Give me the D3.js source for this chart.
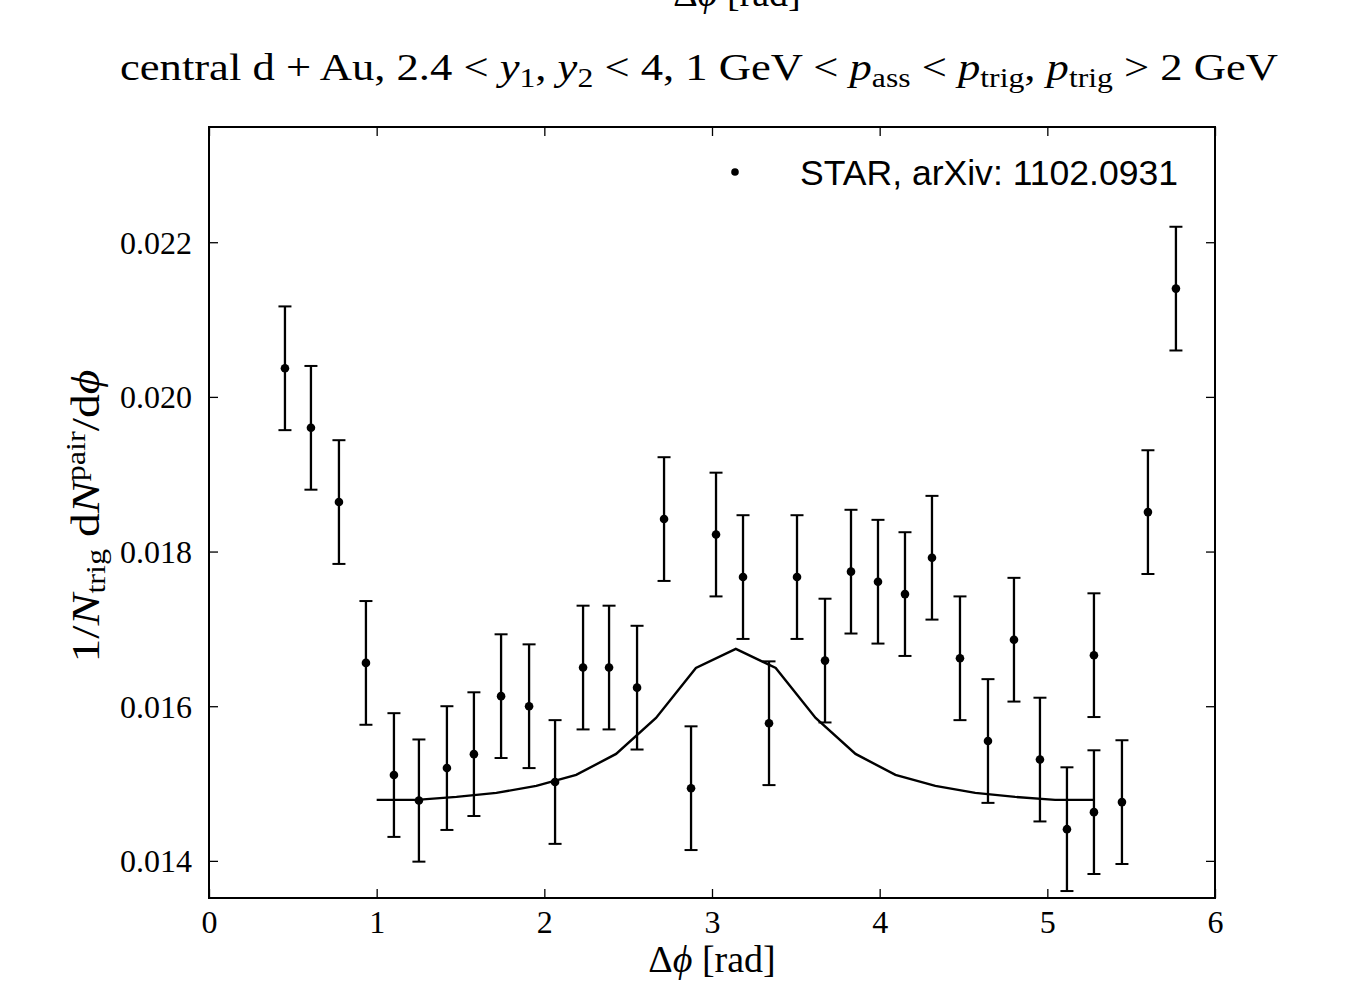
<!DOCTYPE html>
<html><head><meta charset="utf-8">
<script src="https://cdn.jsdelivr.net/npm/d3@7/dist/d3.min.js"></script>
<style>body{margin:0;background:#fff}svg{display:block}</style>
</head><body>
<script>
// Data points (STAR, arXiv: 1102.0931)
const dataPhi = [0.453,0.608,0.775,0.936,1.103,1.252,1.419,1.580,1.742,1.909,2.064,2.231,2.386,2.553,2.714,2.875,3.024,3.185,3.340,3.507,3.674,3.829,3.990,4.151,4.312,4.479,4.646,4.801,4.956,5.117,5.278,5.278,5.445,5.600,5.767];
const dataY   = [0.02037,0.01960,0.01864,0.01656,0.01511,0.01478,0.01520,0.01538,0.01613,0.01600,0.01502,0.01650,0.01650,0.01624,0.01842,0.01494,0.01822,0.01767,0.01578,0.01767,0.01659,0.01774,0.01761,0.01745,0.01792,0.01662,0.01555,0.01686,0.01531,0.01441,0.01666,0.01463,0.01476,0.01851,0.02140];
const dataErr = [0.00080,0.00080,0.00080,0.00080,0.00080,0.00079,0.00080,0.00080,0.00080,0.00080,0.00080,0.00080,0.00080,0.00080,0.00080,0.00080,0.00080,0.00080,0.00080,0.00080,0.00080,0.00080,0.00080,0.00080,0.00080,0.00080,0.00080,0.00080,0.00080,0.00080,0.00080,0.00080,0.00080,0.00080,0.00080];
// Model curve
const curvePhi = [1.000,1.238,1.476,1.714,1.952,2.190,2.428,2.666,2.904,3.142,3.380,3.618,3.856,4.094,4.332,4.570,4.808,5.046,5.283];
const curveY   = [0.014789,0.014789,0.014827,0.014879,0.014970,0.015112,0.015383,0.015849,0.016495,0.016741,0.016495,0.015849,0.015383,0.015112,0.014970,0.014879,0.014827,0.014789,0.014789];
const xTicks = [0,1,2,3,4,5,6];
const yTicks = [0.014,0.016,0.018,0.020,0.022];

const W = 1360, H = 982;
const L = 209, R = 1215, T = 127, B = 898;
const svg = d3.select("body").append("svg").attr("width", W).attr("height", H);
const serif = "'Liberation Serif','DejaVu Serif',serif";
const sans = "'Liberation Sans','DejaVu Sans',Arial,sans-serif";

const x = d3.scaleLinear().domain([0, 6]).range([L, R]);
const y = d3.scaleLinear().domain([0.01352, 0.02349]).range([B, T]);

const tickLen = 9;
const gB = svg.append("g").attr("transform", `translate(0,${B})`)
  .call(d3.axisBottom(x).tickValues(xTicks).tickSizeInner(-tickLen).tickSizeOuter(0).tickPadding(tickLen + 3).tickFormat(d3.format("d")));
const gT = svg.append("g").attr("transform", `translate(0,${T})`)
  .call(d3.axisTop(x).tickValues(xTicks).tickSizeInner(-tickLen).tickSizeOuter(0).tickFormat(""));
const gL = svg.append("g").attr("transform", `translate(${L},0)`)
  .call(d3.axisLeft(y).tickValues(yTicks).tickSizeInner(-tickLen).tickSizeOuter(0).tickPadding(tickLen + 8).tickFormat(d3.format(".3f")));
const gR = svg.append("g").attr("transform", `translate(${R},0)`)
  .call(d3.axisRight(y).tickValues(yTicks).tickSizeInner(-tickLen).tickSizeOuter(0).tickFormat(""));
[gB, gT, gL, gR].forEach(g => {
  g.select(".domain").remove();
  g.selectAll(".tick line").attr("stroke", "#000").attr("stroke-width", 1.3);
  g.selectAll(".tick text").attr("font-family", serif).attr("font-size", 32).attr("fill", "#000");
});
gL.selectAll(".tick text").attr("dy", "0.34em");
gB.selectAll(".tick text").attr("dy", "0.72em");

svg.append("rect").attr("x", L).attr("y", T).attr("width", R - L).attr("height", B - T)
  .attr("fill", "none").attr("stroke", "#000").attr("stroke-width", 2);

svg.append("path").datum(curvePhi.map((p, i) => [p, curveY[i]]))
  .attr("d", d3.line().x(d => x(d[0])).y(d => y(d[1])))
  .attr("fill", "none").attr("stroke", "#000").attr("stroke-width", 2.4);

const pts = dataPhi.map((p, i) => ({p, v: dataY[i], e: dataErr[i]}));
const eb = svg.append("g").attr("stroke", "#000").attr("stroke-width", 2.3);
pts.forEach(d => {
  eb.append("line").attr("x1", x(d.p)).attr("x2", x(d.p)).attr("y1", y(d.v - d.e)).attr("y2", y(d.v + d.e));
  [d.v - d.e, d.v + d.e].forEach(v => eb.append("line").attr("x1", x(d.p) - 6.5).attr("x2", x(d.p) + 6.5).attr("y1", y(v)).attr("y2", y(v)).attr("stroke-width", 2));
});
svg.append("g").selectAll("circle").data(pts).join("circle")
  .attr("cx", d => x(d.p)).attr("cy", d => y(d.v)).attr("r", 4.3).attr("fill", "#000");

svg.append("circle").attr("cx", 735).attr("cy", 172).attr("r", 3.8).attr("fill", "#000");
svg.append("text").attr("x", 800).attr("y", 185).attr("font-family", sans).attr("font-size", 35)
  .attr("textLength", 378).attr("lengthAdjust", "spacingAndGlyphs")
  .attr("fill", "#000").text("STAR, arXiv: 1102.0931");

const xl = svg.append("text").attr("x", (L + R) / 2).attr("y", 972).attr("text-anchor", "middle")
  .attr("font-family", serif).attr("font-size", 38).attr("fill", "#000");
xl.append("tspan").text("Δ");
xl.append("tspan").attr("font-style", "italic").text("ϕ");
xl.append("tspan").text(" [rad]");

const xt = svg.append("text").attr("x", 737).attr("y", 6).attr("text-anchor", "middle")
  .attr("font-family", serif).attr("font-size", 38).attr("fill", "#000");
xt.append("tspan").text("Δ");
xt.append("tspan").attr("font-style", "italic").text("ϕ");
xt.append("tspan").text(" [rad]");

const yl = svg.append("text").attr("transform", `translate(99,516) rotate(-90)`)
  .attr("text-anchor", "middle").attr("font-family", serif).attr("font-size", 40).attr("fill", "#000")
  .attr("textLength", 293).attr("lengthAdjust", "spacingAndGlyphs");
yl.append("tspan").text("1/");
yl.append("tspan").attr("font-style", "italic").text("N");
yl.append("tspan").attr("font-size", 27).attr("dy", 6).text("trig");
yl.append("tspan").attr("dy", -6).text(" d");
yl.append("tspan").attr("font-style", "italic").text("N");
yl.append("tspan").attr("font-size", 27).attr("dy", -14).text("pair");
yl.append("tspan").attr("dy", 14).text("/d");
yl.append("tspan").attr("font-style", "italic").text("ϕ");

const tt = svg.append("text").attr("x", 699).attr("y", 80).attr("text-anchor", "middle")
  .attr("font-family", serif).attr("font-size", 38).attr("fill", "#000");
function seg(txt, opt = {}) {
  const s = tt.append("tspan").text(txt);
  if (opt.i) s.attr("font-style", "italic");
  if (opt.fs) s.attr("font-size", opt.fs);
  if (opt.dy) s.attr("dy", opt.dy);
  return s;
}
seg("central d + Au, 2.4 < ");
seg("y", {i: 1}); seg("1", {fs: 27, dy: 7}); seg(", ", {dy: -7});
seg("y", {i: 1}); seg("2", {fs: 27, dy: 7}); seg(" < 4, 1 GeV < ", {dy: -7});
seg("p", {i: 1}); seg("ass", {fs: 27, dy: 7}); seg(" < ", {dy: -7});
seg("p", {i: 1}); seg("trig", {fs: 27, dy: 7}); seg(", ", {dy: -7});
seg("p", {i: 1}); seg("trig", {fs: 27, dy: 7}); seg(" > 2 GeV", {dy: -7});
tt.attr("textLength", 1158).attr("lengthAdjust", "spacingAndGlyphs");
</script>
</body></html>
